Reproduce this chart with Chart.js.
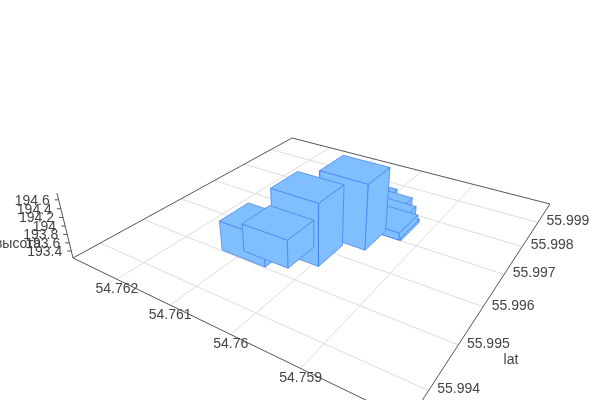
<!DOCTYPE html>
<html>
<head>
<meta charset="utf-8">
<title>3D bars</title>
<script src="https://cdn.jsdelivr.net/npm/chart.js@4/dist/chart.umd.js"></script>
<style>
    html, body { margin: 0; padding: 0; background: #fff; }
    canvas { display: block; }
</style>
</head>
<body>
<canvas id="chart3d" width="600" height="400"></canvas>
<script>
/* ----------------------------------------------------------------------------
                                     DATA
---------------------------------------------------------------------------- */
// bars, painted in this order (back to front)
const barLon = [54.7602, 54.759891, 54.759755, 54.759645, 54.759677, 54.759962, 54.760299, 54.760906, 54.760624];
const barLat = [55.997764, 55.997668, 55.9975, 55.997391, 55.997391, 55.996769, 55.995909, 55.995404, 55.995587];
const barHeight = [193.653, 193.607, 193.53, 193.31, 193.406, 194.79, 194.686, 193.939, 193.897];

const lonTicks = [54.762, 54.761, 54.76, 54.759];
const latTicks = [55.999, 55.998, 55.997, 55.996, 55.995, 55.994];
const heightTicks = [194.6, 194.4, 194.2, 194, 193.8, 193.6, 193.4];

/* ----------------------------------------------------------------------------
                                     INIT
---------------------------------------------------------------------------- */
const barSizeLon = 0.000785;
const barSizeLat = 0.00077;

const lonMin = 54.7577, lonMax = 54.76293;
const latMin = 55.99343, latMax = 55.99987;
const heightMin = 193.226, heightMax = 194.75;

const colorFace = 'rgb(128,191,255)';
const colorEdge = 'rgba(72,132,240,0.8)';
const colorGrid = '#dcdcdc';
const colorAxis = '#555555';
const colorText = '#444444';
const labelFont = '14px "Liberation Sans", Arial, sans-serif';

// camera, worked out from the floor corners and the leaning height axis
function project(lon, lat, height) {
    var u = (lonMax - lon) / (lonMax - lonMin);
    var v = (lat - latMin) / (latMax - latMin);
    var z = (height - heightMin) / (heightMax - heightMin);
    var w = -0.3044 * u + 0.4687 * v + 1 - 0.062 * z;
    return {
        x: (211.4 * u + 355.9 * v + 73 - 19.53 * z) / w,
        y: (34.8 * u - 55.3 * v + 258 - 76.9 * z) / w
    };
}

function lineDataset(points, color, width, face) {
    return {
        data: points,
        showLine: true,
        borderColor: color,
        borderWidth: width,
        pointRadius: 0,
        tension: 0,
        fill: false,
        clip: false,
        faceColor: face
    };
}

/* ----------------------------------------------------------------------------
                                    MAIN
---------------------------------------------------------------------------- */
var datasets = [];

// Floor grid -----------------------------------------------------------------
lonTicks.forEach(function(lon) {
    datasets.push(lineDataset([project(lon, latMin, heightMin), project(lon, latMax, heightMin)], colorGrid, 1));
});
latTicks.forEach(function(lat) {
    datasets.push(lineDataset([project(lonMin, lat, heightMin), project(lonMax, lat, heightMin)], colorGrid, 1));
});

// Axes -----------------------------------------------------------------------
datasets.push(lineDataset([
    project(lonMax, latMin, heightMin),
    project(lonMin, latMin, heightMin),
    project(lonMin, latMax, heightMin),
    project(lonMax, latMax, heightMin),
    project(lonMax, latMin, heightMin)
], colorAxis, 1));
datasets.push(lineDataset([project(lonMax, latMin, heightMin), project(lonMax, latMin, heightMax)], colorAxis, 1));
heightTicks.forEach(function(tick) {
    var p = project(lonMax, latMin, tick);
    datasets.push(lineDataset([p, { x: p.x - 4, y: p.y }], colorAxis, 1));
});

// Bars -----------------------------------------------------------------------
for (var i = 0; i < barLon.length; i++) {
    var lon0 = barLon[i] - barSizeLon / 2, lon1 = barLon[i] + barSizeLon / 2;
    var lat0 = barLat[i] - barSizeLat / 2, lat1 = barLat[i] + barSizeLat / 2;
    var barTop = barHeight[i];
    var quads = [
        [[lon1, lat0, heightMin], [lon0, lat0, heightMin], [lon0, lat0, barTop], [lon1, lat0, barTop]],
        [[lon0, lat0, heightMin], [lon0, lat1, heightMin], [lon0, lat1, barTop], [lon0, lat0, barTop]],
        [[lon1, lat0, barTop], [lon0, lat0, barTop], [lon0, lat1, barTop], [lon1, lat1, barTop]]
    ];
    quads.forEach(function(quad) {
        var points = quad.map(function(c) { return project(c[0], c[1], c[2]); });
        points.push(points[0]);
        datasets.push(lineDataset(points, colorEdge, 1, colorFace));
    });
}

// the first dataset has to be painted first
datasets.forEach(function(d, index) { d.order = datasets.length - index; });

const faceFill = {
    id: 'faceFill',
    beforeDatasetDraw: function(chart, args) {
        var ds = chart.data.datasets[args.index];
        if (!ds.faceColor) return;
        var ctx = chart.ctx;
        ctx.save();
        ctx.beginPath();
        args.meta.data.forEach(function(pt, n) {
            if (n == 0) ctx.moveTo(pt.x, pt.y);
            else ctx.lineTo(pt.x, pt.y);
        });
        ctx.closePath();
        ctx.fillStyle = ds.faceColor;
        ctx.fill();
        ctx.restore();
    }
};

const axisLabels = {
    id: 'axisLabels',
    afterDraw: function(chart) {
        var ctx = chart.ctx;
        var sx = chart.scales.x, sy = chart.scales.y;
        function put(text, p, dx, dy, align) {
            ctx.textAlign = align;
            ctx.fillText(text, sx.getPixelForValue(p.x) + dx, sy.getPixelForValue(p.y) + dy);
        }
        ctx.save();
        ctx.font = labelFont;
        ctx.fillStyle = colorText;
        ctx.textBaseline = 'middle';
        lonTicks.forEach(function(tick) {
            put(String(tick), project(tick, latMin, heightMin), 0, 10, 'center');
        });
        latTicks.forEach(function(tick) {
            put(String(tick), project(lonMin, tick, heightMin), 30, -1, 'center');
        });
        heightTicks.forEach(function(tick) {
            put(String(tick), project(lonMax, latMin, tick), -9, 1, 'right');
        });
        put('lat', { x: 511, y: 360 }, 0, 0, 'center');
        put('высота', { x: 18, y: 244 }, 0, 0, 'center');
        ctx.restore();
    }
};

const chart3d = new Chart(document.getElementById('chart3d').getContext('2d'), {
    type: 'scatter',
    data: { datasets: datasets },
    plugins: [faceFill, axisLabels],
    options: {
        responsive: false,
        animation: false,
        layout: { padding: 0 },
        plugins: {
            legend: { display: false },
            tooltip: { enabled: false }
        },
        scales: {
            x: { type: 'linear', min: 0, max: 600, display: false },
            y: { type: 'linear', min: 0, max: 400, reverse: true, display: false }
        }
    }
});
</script>
</body>
</html>
